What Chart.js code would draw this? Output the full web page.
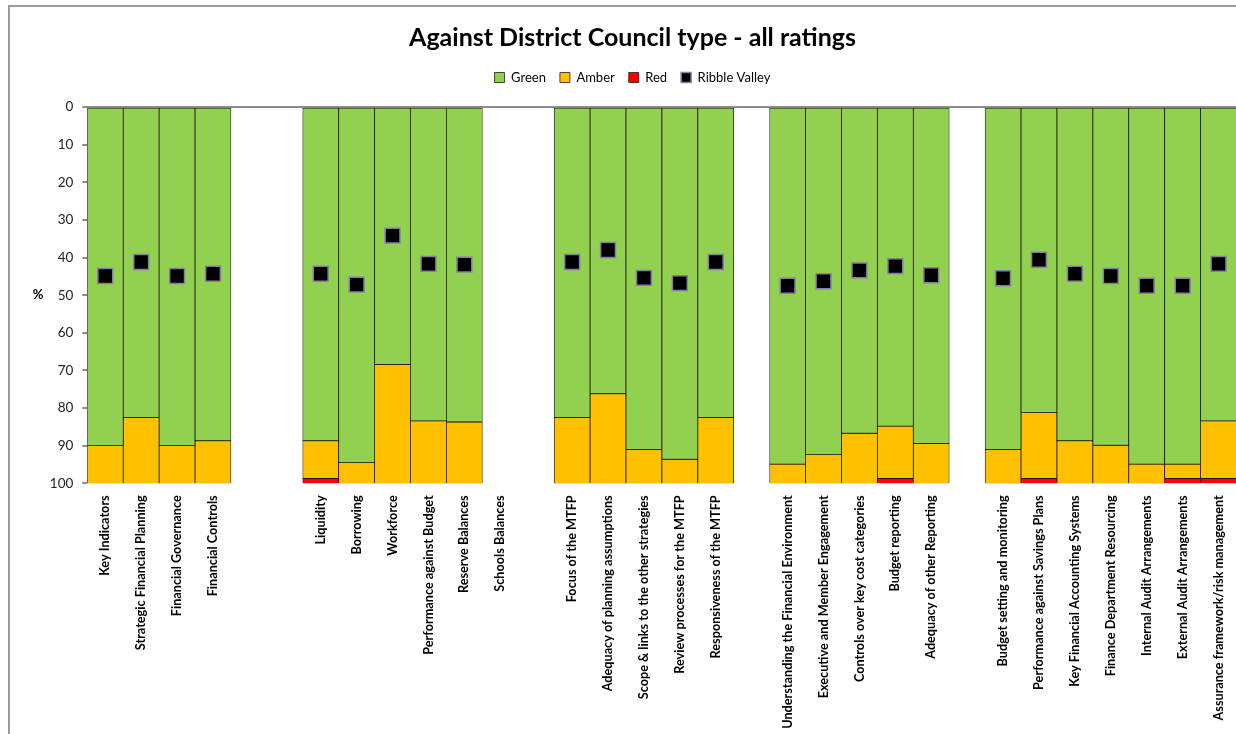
<!DOCTYPE html>
<html>
<head>
<meta charset="utf-8">
<script src="https://cdn.jsdelivr.net/npm/chart.js@4.4.1/dist/chart.umd.min.js"></script>
<style>
  html, body { margin: 0; padding: 0; background: #fff; overflow: hidden; }
  #frame {
    position: absolute; left: 8px; top: 5px;
    border-left: 2px solid #9a9a9a; border-top: 2px solid #9a9a9a;
    width: 1245px; height: 727px;
  }
</style>
</head>
<body>
<div id="frame"><canvas id="chart" width="1245" height="727"></canvas></div>
<script>
// categories (blank entries are the gaps between groups)
const categories = [
  'Key Indicators', 'Strategic Financial Planning', 'Financial Governance', 'Financial Controls',
  '', '',
  'Liquidity', 'Borrowing', 'Workforce', 'Performance against Budget', 'Reserve Balances', 'Schools Balances',
  '',
  'Focus of the MTFP', 'Adequacy of planning assumptions', 'Scope & links to the other strategies',
  'Review processes for the MTFP', 'Responsiveness of the MTFP',
  '',
  'Understanding the Financial Environment', 'Executive and Member Engagement',
  'Controls over key cost categories', 'Budget reporting', 'Adequacy of other Reporting',
  '',
  'Budget setting and monitoring', 'Performance against Savings Plans', 'Key Financial Accounting Systems',
  'Finance Department Resourcing', 'Internal Audit Arrangements', 'External Audit Arrangements',
  'Assurance framework/risk management'
];

const greenValues = [
  90, 82.5, 90, 88.7,
  null, null,
  88.7, 94.5, 68.4, 83.4, 83.7, null,
  null,
  82.5, 76.2, 91.0, 93.6, 82.5,
  null,
  94.9, 92.4, 86.7, 84.8, 89.4,
  null,
  91.0, 81.2, 88.7, 89.9, 94.9, 94.9, 83.4
];

const amberValues = [
  10, 17.5, 10, 11.3,
  null, null,
  10, 5.5, 31.6, 16.6, 16.3, null,
  null,
  17.5, 23.8, 9.0, 6.4, 17.5,
  null,
  5.1, 7.6, 13.3, 13.9, 10.6,
  null,
  9.0, 17.5, 11.3, 10.1, 5.1, 3.8, 15.3
];

const redValues = [
  0, 0, 0, 0,
  null, null,
  1.3, 0, 0, 0, 0, null,
  null,
  0, 0, 0, 0, 0,
  null,
  0, 0, 0, 1.3, 0,
  null,
  0, 1.3, 0, 0, 0, 1.3, 1.3
];

const ribbleValues = [
  44.9, 41.2, 44.9, 44.3,
  null, null,
  44.3, 47.2, 34.2, 41.7, 41.9, null,
  null,
  41.2, 38.0, 45.4, 46.8, 41.2,
  null,
  47.5, 46.3, 43.4, 42.3, 44.7,
  null,
  45.5, 40.6, 44.3, 44.9, 47.5, 47.5, 41.7
];

const FONT = 'Lato, "Open Sans", sans-serif';

// "%" label drawn horizontally beside the value axis
const percentLabel = {
  id: 'percentLabel',
  afterDraw(chart) {
    const { ctx, chartArea } = chart;
    ctx.save();
    ctx.font = 'bold 13px ' + FONT;
    ctx.fillStyle = '#000';
    ctx.textAlign = 'center';
    ctx.textBaseline = 'middle';
    ctx.fillText('%', 28, (chartArea.top + chartArea.bottom) / 2);
    ctx.restore();
  }
};

const ctx = document.getElementById('chart').getContext('2d');
new Chart(ctx, {
  type: 'bar',
  data: {
    labels: categories,
    datasets: [
      {
        label: 'Green', data: greenValues, order: 1,
        backgroundColor: '#92D050', borderColor: '#111', borderWidth: 0.75, borderSkipped: false
      },
      {
        label: 'Amber', data: amberValues, order: 1,
        backgroundColor: '#FFC000', borderColor: '#111', borderWidth: 0.75, borderSkipped: false
      },
      {
        label: 'Red', data: redValues, order: 1,
        backgroundColor: '#FF0000', borderColor: '#111', borderWidth: 0.75, borderSkipped: false
      },
      {
        type: 'line', label: 'Ribble Valley', data: ribbleValues, order: 0, stack: 'rv',
        showLine: false,
        backgroundColor: '#000', borderColor: '#8a7ca8', borderWidth: 1.5,
        pointStyle: 'rect', pointRadius: 10.5, pointHoverRadius: 10.5, pointBorderWidth: 1.5
      }
    ]
  },
  options: {
    responsive: false,
    animation: false,
    layout: { padding: 0 },
    datasets: { bar: { barPercentage: 1, categoryPercentage: 1 } },
    plugins: {
      title: {
        display: true,
        text: 'Against District Council type - all ratings',
        color: '#000',
        font: { family: FONT, size: 25, weight: 'bold' },
        padding: { top: 16, bottom: 4 }
      },
      legend: {
        labels: {
          color: '#000',
          font: { family: FONT, size: 13 },
          boxWidth: 10, boxHeight: 10, padding: 14,
          sort: (a, b) => a.datasetIndex - b.datasetIndex
        }
      },
      tooltip: { enabled: false }
    },
    scales: {
      x: {
        stacked: true,
        grid: { display: false },
        border: { display: false },
        ticks: {
          autoSkip: false, maxRotation: 90, minRotation: 90,
          color: '#000', padding: 4,
          font: { family: FONT, size: 12.7, weight: 'bold' }
        },
        afterFit(scale) { scale.height = 250.7; }
      },
      // empty spacer between legend and plot
      xTop: {
        position: 'top',
        grid: { display: false },
        border: { display: false },
        ticks: { display: false },
        afterFit(scale) { scale.height = 13; }
      },
      y: {
        stacked: true,
        reverse: true,
        min: 0, max: 100,
        border: { display: false },
        grid: {
          drawOnChartArea: true,
          color: c => (c.tick && c.tick.value === 0 ? '#8c8c8c' : 'rgba(0,0,0,0)'),
          lineWidth: 2,
          tickColor: '#8c8c8c',
          tickLength: 5
        },
        ticks: {
          stepSize: 10, color: '#222', padding: 9,
          font: { family: FONT, size: 13.5 }
        },
        afterFit(scale) { scale.width = 77.3; }
      },
      // empty spacer on the right so title/legend stay centred on the full frame
      yRight: {
        position: 'right',
        grid: { display: false },
        border: { display: false },
        ticks: { display: false },
        afterFit(scale) { scale.width = 18.5; }
      }
    }
  },
  plugins: [percentLabel]
});
</script>
</body>
</html>
